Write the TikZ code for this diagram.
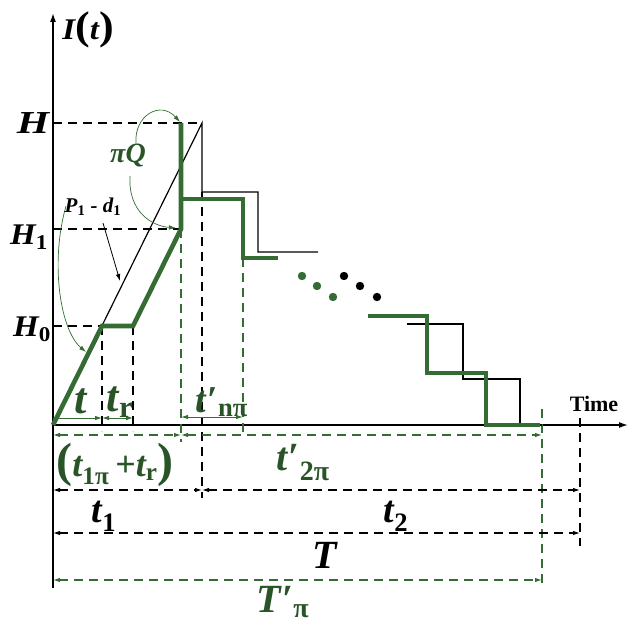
\documentclass[tikz,border=0pt]{standalone}
\usepackage{fontspec}
\setmainfont{Liberation Serif}
\usetikzlibrary{arrows.meta}
\definecolor{gr}{RGB}{52,108,52}
\definecolor{grt}{RGB}{40,84,40}
\newcommand\bi[1]{{\bfseries\itshape #1}}
\newcommand\sbu[1]{\textsubscript{\upshape #1}}
\newcommand\fs[1]{\fontsize{#1}{#1}\selectfont}
\newcommand\pr{\kern1pt{\upshape ′}}
\begin{document}
\begin{tikzpicture}[x=1pt,y=-1pt,
  thinblk/.style={line width=1.2pt,black},
  thickgr/.style={line width=4.6pt,gr},
  dsh/.style={line width=1.1pt,dash pattern=on 9pt off 6pt},
  tip/.style={-{Latex[length=7pt,width=4.5pt]}},
  ttip/.style={{Latex[length=7pt,width=4.5pt]}-{Latex[length=7pt,width=4.5pt]}},
  lbl/.style={inner sep=0pt,font=\fs{30}\bfseries\itshape},
  ]
\useasboundingbox (0,0) rectangle (628,628);
% key coordinates
\coordinate (O) at (53,425);
\coordinate (Ytop) at (53,13);
\coordinate (Ybot) at (53,588);
\coordinate (Xend) at (628,425);
\coordinate (yH) at (53,123);
\coordinate (yH1) at (53,229);
\coordinate (yH0) at (53,326);
\coordinate (g1) at (102,326);
\coordinate (g2) at (133,326);
\coordinate (g3) at (181,229);
\coordinate (g4) at (181,123);
\coordinate (g5) at (181,199);
\coordinate (g6) at (243,199);
\coordinate (g7) at (243,258);
\coordinate (g8) at (278,258);
\coordinate (k1) at (202,123);
\coordinate (k2) at (202,192);
\coordinate (k3) at (258,192);
\coordinate (k4) at (258,252);
\coordinate (k5) at (318,252);
% axes
\draw[line width=1.5pt,-{Latex[length=9pt,width=6pt]}] (Ybot) -- (Ytop);
\draw[line width=1.5pt,-{Latex[length=9pt,width=6pt]}] (O) -- (Xend);
% level dashes
\draw[dsh] (yH) -- (k1);
\draw[dsh] (yH1) -- (g3);
\draw[dsh] (yH0) -- (g1);
% vertical dashes
\draw[dsh] (g1) -- (102,431);
\draw[dsh] (g2) -- (133,431);
\draw[dsh,gr] (g3) -- (181,442);
\draw[dsh] (k2) -- (202,498);
\draw[dsh,gr] (g7) -- (243,433);
\draw[dsh,gr] (542,409) -- (542,588);
\draw[dsh] (580,418) -- (580,546);
% black curve
\draw[thinblk,line join=miter] (O) -- (k1) -- (k2) -- (k3) -- (k4) -- (k5);
\draw[thinblk] (407,324) -- (463,324) -- (463,379) -- (520,379) -- (520,425) -- (542,425);
% green curve
\draw[thickgr,line join=miter] (O) -- (g1) -- (g2) -- (g3) -- (g4);
\draw[thickgr,line join=miter] (g5) -- (g6) -- (g7) -- (g8);
\draw[thickgr,line join=miter] (368,316) -- (427,316) -- (427,373) -- (486,373) -- (486,425) -- (540,425);
% dots
\foreach \p in {(302,276),(317,286),(333,297)} \fill[gr] \p circle (4.2pt);
\foreach \p in {(344,276),(360,286),(377,297)} \fill[black] \p circle (4.2pt);
% small dimension arrows
\draw[gr,line width=0.9pt,tip] (O) ++(0,-7) coordinate (ta) -- (102,418);
\draw[gr,line width=0.9pt,ttip] (102,418) -- (133,418);
\draw[gr,line width=0.9pt,ttip] (181,417) -- (243,417);
% long dimension arrows
\draw[gr,dsh,ttip] (53,435) -- (181,435);
\draw[gr,dsh,ttip] (181,435) -- (542,435);
\draw[dsh,ttip] (53,490) -- (202,490);
\draw[dsh,ttip] (202,490) -- (580,490);
\draw[dsh,ttip] (53,533) -- (580,533);
\draw[gr,dsh,ttip] (53,580) -- (542,580);
% annotations
\draw[gr,line width=0.7pt,tip] (66,206) .. controls (50,262) and (60,330) .. (86,352);
\draw[gr,line width=0.7pt,tip] (136,143) .. controls (134,116) and (160,100) .. (180,122);
\draw[gr,line width=0.7pt,tip] (130,176) .. controls (128,212) and (152,226) .. (176,228);
\draw[line width=0.8pt,tip] (103,223) -- (120,281);
% labels
\node[lbl,xscale=1.1] (lI) at (88,30) {\bi{I}{\fs{40}\upshape(}\bi{t}{\fs{40}\upshape)}};
\node[lbl,font=\fs{32}\bfseries\itshape,xscale=1.3] (lH) at (33,123) {H};
\node[lbl,xscale=1.1] (lH1) at (29,237) {H\sbu{1}};
\node[lbl,xscale=1.1] (lH0) at (32,329) {H\sbu{0}};
\node[lbl,font=\fs{21}\bfseries\itshape] (lP) at (93,207) {P\sbu{1} - d\sbu{1}};
\node[lbl,font=\fs{28}\bfseries\itshape,text=grt] (lQ) at (128,156) {πQ};
\node[lbl,font=\fs{44}\bfseries\itshape,text=grt] (lt) at (81,401) {t};
\node[lbl,font=\fs{44}\bfseries\itshape,text=grt] (ltr) at (120,402) {t\sbu{r}};
\node[lbl,font=\fs{38}\bfseries\itshape,text=grt] (ltn) at (222,402) {t\pr\sbu{nπ}};
\node[lbl,font=\fs{36}\bfseries\itshape,text=grt] (ltp) at (115,465) {{\fs{48}\upshape(}t\sbu{1π}\,\upshape+\itshape t\sbu{r}{\fs{48}\upshape)}};
\node[lbl,font=\fs{40}\bfseries\itshape,text=grt] (lt2p) at (303,463) {t\pr\sbu{2π}};
\node[lbl,font=\fs{38}\bfseries\itshape] (lt1) at (104,516) {t\sbu{1}};
\node[lbl,font=\fs{38}\bfseries\itshape] (lt2) at (396,516) {t\sbu{2}};
\node[lbl,font=\fs{40}\bfseries\itshape] (lT) at (325,555) {T};
\node[lbl,font=\fs{40}\bfseries\itshape,text=grt] (lTp) at (283,602) {T\pr\sbu{π}};
\node[inner sep=0pt,font=\fs{22}\bfseries] (ltime) at (594,404) {Time};
\end{tikzpicture}
\end{document}
